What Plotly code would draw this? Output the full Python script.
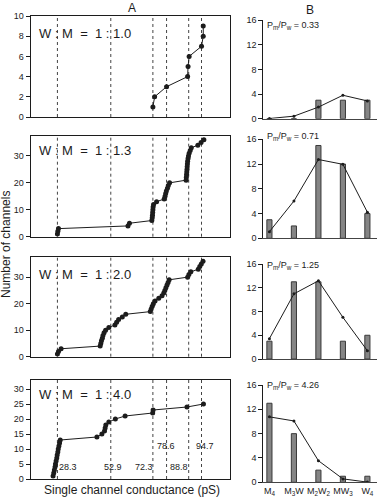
import plotly.graph_objects as go

W, H = 384, 500

# ---------------- data ----------------
LEVELS = [28.3, 52.9, 72.3, 78.6, 88.8, 94.7]
LEVEL_LABELS = ["28.3", "52.9", "72.3", "78.6", "88.8", "94.7"]

RATIO_LABELS = ["1 : 1.0", "1 : 1.3", "1 : 2.0", "1 : 4.0"]
PM_PW = ["0.33", "0.71", "1.25", "4.26"]

# sorted single-channel conductances (pS), cumulative count = rank
COND_1 = [72.3, 73.1, 78.6, 88.3, 88.5, 89.0, 94.7, 95.5, 95.5]
COND_2 = [28.3, 28.5, 28.8, 60.8, 61.5, 71.8, 72.0, 72.1, 72.2, 72.3,
          72.4, 72.6, 74.0, 77.5, 77.9, 78.2, 78.5, 79.0, 79.4, 80.0,
          87.6, 87.7, 87.8, 87.9, 88.0, 88.1, 88.2, 88.3, 88.5, 88.7,
          89.0, 89.5, 90.0, 93.0, 94.5, 95.8]
COND_3 = [28.3, 28.8, 30.0, 48.0, 48.3, 48.6, 49.0, 49.3, 49.8, 50.5,
          52.0, 54.8, 55.6, 56.5, 58.2, 59.8, 71.1, 71.5, 72.0, 72.5,
          73.3, 75.0, 76.5, 77.3, 77.8, 78.3, 78.8, 79.3, 79.8, 88.3,
          88.9, 89.8, 93.2, 93.9, 94.6, 95.4]
COND_4 = [26.3, 26.6, 26.9, 27.2, 27.4, 27.7, 28.0, 28.2, 28.5, 28.7,
          29.0, 29.3, 29.6, 46.5, 48.8, 50.0, 50.3, 50.6, 52.0, 55.0,
          59.5, 72.2, 72.4, 88.0, 95.6]

CATEGORIES = ["M<sub>4</sub>", "M<sub>3</sub>W", "M<sub>2</sub>W<sub>2</sub>",
              "MW<sub>3</sub>", "W<sub>4</sub>"]
OBS_1 = [0, 0, 3, 3, 3]
OBS_2 = [3, 2, 15, 12, 4]
OBS_3 = [3, 13, 13, 3, 4]
OBS_4 = [13, 8, 2, 1, 1]
PRED_1 = [0.03, 0.41, 1.88, 3.80, 2.88]
PRED_2 = [1.07, 6.02, 12.73, 11.96, 4.22]
PRED_3 = [3.43, 10.97, 13.17, 7.02, 1.40]
PRED_4 = [10.76, 10.09, 3.55, 0.56, 0.03]

YMAX_A = [10, 37.4, 37.6, 33]
YTICKS_A = [[0, 2, 4, 6, 8, 10], [0, 10, 20, 30], [0, 10, 20, 30],
            [0, 5, 10, 15, 20, 25, 30]]
YTICKS_B = [0, 4, 8, 12, 16]

CONDS = [COND_1, COND_2, COND_3, COND_4]
OBS = [OBS_1, OBS_2, OBS_3, OBS_4]
PREDS = [PRED_1, PRED_2, PRED_3, PRED_4]

# ---------------- layout geometry (pixels) ----------------
A_X = (30.5, 229.5)
A_Y = [(16, 117), (136, 236.7), (257, 356.7), (380, 479)]
B_X = (263.3, 376.7)
B_Y = [(20, 118.7), (139.3, 238.3), (264, 359), (385, 482.3)]

FONT = "Liberation Sans, Arial, Helvetica, sans-serif"
INK = "#1c1c1c"


def px(x):
    return x / W


def py(y):
    return 1 - y / H


def sfx(k):
    return "" if k == 1 else str(k)


fig = go.Figure()
layout = dict(
    width=W, height=H, autosize=False,
    margin=dict(l=0, r=0, t=0, b=0, pad=0),
    paper_bgcolor="white", plot_bgcolor="white",
    showlegend=False, hovermode=False,
    font=dict(family=FONT, color=INK, size=9),
)
shapes = []
annotations = []

for i in range(4):
    k = i + 1
    s = sfx(k)
    cond = CONDS[i]
    counts = list(range(1, len(cond) + 1))
    fig.add_trace(go.Scatter(
        x=cond, y=counts, mode="lines+markers",
        line=dict(color=INK, width=1),
        marker=dict(color=INK, size=5),
        xaxis=f"x{s}", yaxis=f"y{s}", hoverinfo="skip"))
    layout[f"xaxis{s}"] = dict(
        domain=[px(A_X[0]), px(A_X[1])], range=[15.9, 107.6],
        showticklabels=False, ticks="", showgrid=False, zeroline=False,
        showline=True, mirror=True, linecolor=INK, linewidth=1,
        anchor=f"y{s}", automargin=False)
    layout[f"yaxis{s}"] = dict(
        domain=[py(A_Y[i][1]), py(A_Y[i][0])], range=[0, YMAX_A[i]],
        tickvals=YTICKS_A[i], ticks="outside", ticklen=4, tickcolor=INK,
        tickfont=dict(size=9), showgrid=False, zeroline=False,
        showline=True, mirror=True, linecolor=INK, linewidth=1,
        anchor=f"x{s}", automargin=False)
    for L in LEVELS:
        shapes.append(dict(type="line", xref=f"x{s}", yref=f"y{s} domain",
                           x0=L, x1=L, y0=0, y1=1, layer="below",
                           line=dict(color="#444", width=1, dash="dot")))
    annotations.append(dict(
        xref="paper", yref="paper", x=px(37), y=py([33, 150.7, 274, 394][i]),
        xanchor="left", yanchor="middle", showarrow=False,
        text="W\u00a0:\u00a0M\u00a0\u00a0=\u00a0\u00a0" + RATIO_LABELS[i].replace(" ", "\u00a0"),
        font=dict(size=13)))

    # panel B
    b = str(i + 5)
    fig.add_trace(go.Bar(
        x=CATEGORIES, y=OBS[i], width=0.21,
        marker=dict(color="#858585", line=dict(color="#3a3a3a", width=1)),
        xaxis=f"x{b}", yaxis=f"y{b}", hoverinfo="skip"))
    fig.add_trace(go.Scatter(
        x=CATEGORIES, y=PREDS[i], mode="lines+markers",
        line=dict(color=INK, width=1), marker=dict(color=INK, size=3),
        xaxis=f"x{b}", yaxis=f"y{b}", hoverinfo="skip"))
    layout[f"xaxis{b}"] = dict(
        domain=[px(B_X[0]), px(B_X[1])], type="category",
        range=[-0.25, 4.38], showticklabels=(i == 3), ticks="",
        tickfont=dict(size=9), showgrid=False, zeroline=False,
        showline=True, linecolor="#444", linewidth=1, anchor=f"y{b}",
        automargin=False)
    layout[f"yaxis{b}"] = dict(
        domain=[py(B_Y[i][1]), py(B_Y[i][0])], range=[0, 16],
        tickvals=YTICKS_B, ticks="outside", ticklen=4, tickcolor=INK,
        tickfont=dict(size=9), showgrid=False, zeroline=False,
        showline=True, linecolor=INK, linewidth=1, anchor=f"x{b}",
        automargin=False)
    annotations.append(dict(
        xref="paper", yref="paper", x=px(265), y=py([25, 136.7, 265, 385][i]),
        xanchor="left", yanchor="middle", showarrow=False,
        text="P<sub>m</sub>/P<sub>w</sub> = " + PM_PW[i],
        font=dict(size=9)))

# conductance level labels in bottom-left panel
label_dx = [5.1, 0.8, -4.0, -0.2, -4.7, 1.8]
label_y = [4, 4, 4, 11, 4, 11]
for L, t, dx, yy in zip(LEVELS, LEVEL_LABELS, label_dx, label_y):
    annotations.append(dict(xref="x4", yref="y4", x=L + dx, y=yy,
                            text=t, showarrow=False, font=dict(size=9),
                            xanchor="center", yanchor="middle"))

# panel letters and axis titles
annotations += [
    dict(xref="paper", yref="paper", x=px(131.7), y=py(8), text="A",
         showarrow=False, font=dict(size=12), xanchor="center", yanchor="middle"),
    dict(xref="paper", yref="paper", x=px(310), y=py(10), text="B",
         showarrow=False, font=dict(size=12), xanchor="center", yanchor="middle"),
    dict(xref="paper", yref="paper", x=px(132), y=py(490),
         text="Single channel conductance (pS)", showarrow=False,
         font=dict(size=12), xanchor="center", yanchor="middle"),
    dict(xref="paper", yref="paper", x=px(6), y=py(245),
         text="Number of channels", showarrow=False, textangle=-90,
         font=dict(size=12), xanchor="center", yanchor="middle"),
]

layout["shapes"] = shapes
layout["annotations"] = annotations
layout["bargap"] = 0
fig.update_layout(**layout)
fig.write_html("out.html",
               config={"displayModeBar": False, "staticPlot": True},
               post_script="document.body.style.margin='0';document.body.style.padding='0';")
